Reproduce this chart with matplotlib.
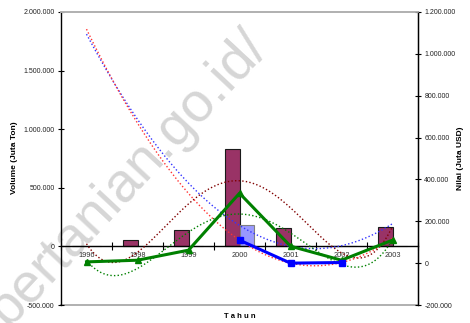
import numpy as np
import matplotlib
matplotlib.use("Agg")
import matplotlib.pyplot as plt

plt.rcParams["font.family"] = ["Liberation Sans", "DejaVu Sans"]

# Data
years = ["1996", "1998", "1999", "2000", "2001", "2002", "2003"]
volume_a = [4000, 51000, 136000, 828000, 154000, 5000, 162000]          # bars, left axis
volume_b = [np.nan, np.nan, np.nan, 179000, 1000, 6000, np.nan]         # bars, left axis
nilai_a = [6000, 14000, 62000, 334000, 81000, 14000, 110000]            # line, right axis
nilai_b = [np.nan, np.nan, np.nan, 110000, 0, 3000, np.nan]             # line, right axis

left_ticks = [-500000, 0, 500000, 1000000, 1500000, 2000000]
right_ticks = [-200000, 0, 200000, 400000, 600000, 800000, 1000000, 1200000]

trend_order_a = 4
trend_order_b = 2


def fmt(v):
    s = f"{abs(v):,}".replace(",", ".")
    return ("-" if v < 0 else "") + s


def poly_trend(vals, order):
    x = np.arange(len(vals), dtype=float)
    y = np.asarray(vals, dtype=float)
    m = ~np.isnan(y)
    coef = np.polyfit(x[m] + 1, y[m], order)
    xs = np.linspace(0, len(vals) - 1, 300)
    return xs, np.polyval(coef, xs + 1)


fig = plt.figure(figsize=(4.70, 3.23), dpi=100)

# site watermark, behind the chart
fig.text(128 / 470, 1 - 178 / 323, "pertanian.go.id/", rotation=47, ha="center", va="center",
         fontsize=40, color="#d6d6d6", zorder=-1)

ax = fig.add_axes([61 / 470, 1 - 305 / 323, (418 - 61) / 470, (305 - 12) / 323])
ax2 = ax.twinx()
ax.patch.set_alpha(0)
ax2.patch.set_alpha(0)

x = np.arange(len(years))
w = 0.29
ax.bar(x - w / 2, volume_a, width=w, color="#993366", edgecolor="#1a1a1a", linewidth=0.8, zorder=2)
ax.bar(x + w / 2, np.nan_to_num(volume_b), width=w, color="#9999FF", edgecolor="#808080", linewidth=0.8, zorder=2)

dots = (0, (1, 1.6))
xs, ys = poly_trend(volume_a, trend_order_a)
ax.plot(xs, ys, color="#800000", lw=1, ls=dots, zorder=3)
xs, ys = poly_trend(volume_b, trend_order_b)
ax.plot(xs, ys, color="#3333FF", lw=1, ls=dots, zorder=3)

xs, ys = poly_trend(nilai_a, trend_order_a)
ax2.plot(xs, ys, color="#008000", lw=1, ls=dots, zorder=3)
xs, ys = poly_trend(nilai_b, trend_order_b)
ax2.plot(xs, ys, color="#FF3333", lw=1, ls=dots, zorder=3)

ax2.plot(x, nilai_a, color="#008000", lw=2.2, marker="^", ms=5, zorder=4)
ax2.plot(x, nilai_b, color="#0000FF", lw=2.2, marker="s", ms=4.5, zorder=4)

ax.set_xlim(-0.5, len(years) - 0.5)
ax.set_ylim(left_ticks[0], left_ticks[-1])
ax2.set_ylim(right_ticks[0], right_ticks[-1])

# category axis crossing at zero of the left axis
ax.spines["bottom"].set_position(("data", 0))
ax.spines["bottom"].set_color("black")
ax.spines["bottom"].set_linewidth(1.0)
ax.spines["bottom"].set_zorder(2.5)
ax.set_xticks(np.arange(len(years) + 1) - 0.5)
ax.set_xticklabels([])
ax.set_xticks(x, minor=True)
ax.set_xticklabels(years, minor=True, fontsize=5.3, color="#333333")
ax.tick_params(axis="x", which="major", direction="inout", length=6, width=0.8)
ax.tick_params(axis="x", which="minor", length=0, pad=4)

for a in (ax, ax2):
    a.spines["top"].set_color("#b0b0b0")
    a.spines["top"].set_linewidth(1.2)
ax.axhline(left_ticks[0], color="#b0b0b0", lw=1.4, zorder=1, clip_on=False)
ax2.spines["bottom"].set_visible(False)

ax.set_yticks(left_ticks)
ax.set_yticklabels([fmt(v) for v in left_ticks], fontsize=5, color="#222222")
ax.tick_params(axis="y", direction="inout", length=5, width=0.8, pad=2)
ax.spines["left"].set_linewidth(1.0)

ax2.set_yticks(right_ticks)
ax2.set_yticklabels([fmt(v) for v in right_ticks], fontsize=5, color="#222222")
ax2.tick_params(axis="y", direction="inout", length=5, width=0.8, pad=2)
ax2.spines["right"].set_linewidth(1.0)
ax2.spines["left"].set_visible(False)

fig.text(15 / 470, 1 - 158 / 323, "Volume (Juta Ton)", rotation=90, ha="center", va="center",
         fontsize=6, fontweight="bold")
fig.text(460 / 470, 1 - 158 / 323, "Nilai (Juta USD)", rotation=90, ha="center", va="center",
         fontsize=6, fontweight="bold")
fig.text(240 / 470, 1 - 317 / 323, "T a h u n", ha="center", va="center", fontsize=5.5, fontweight="bold")

fig.savefig("out.png", dpi=100)
